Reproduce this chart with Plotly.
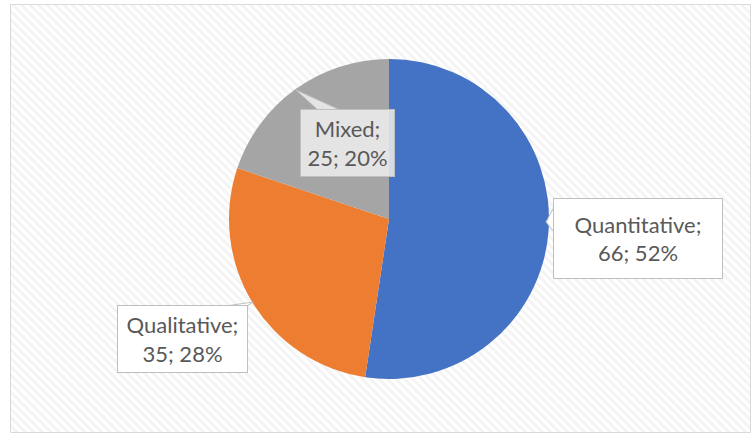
import plotly.graph_objects as go
import base64

labels = ["Quantitative", "Qualitative", "Mixed"]
values = [66, 35, 25]
colors = ["#4472C4", "#ED7D31", "#A5A5A5"]

W, H = 755, 435

def px(x):
    return x / W

def py(y):
    return 1 - y / H

total = sum(values)
pcts = [round(v * 100 / total) for v in values]
texts = [f"{l};<br>{v}; {p}%" for l, v, p in zip(labels, values, pcts)]

fig = go.Figure()
fig.add_trace(go.Pie(
    labels=labels, values=values, sort=False, direction="clockwise", rotation=0,
    marker=dict(colors=colors, line=dict(width=0)),
    textinfo="none", hoverinfo="label+value+percent", showlegend=False,
    domain=dict(x=[px(229), px(549)], y=[py(379), py(59)]),
))

# striped background pattern
svg = ('<svg xmlns="http://www.w3.org/2000/svg" width="740" height="428">'
       '<defs><pattern id="p" width="6" height="6" patternUnits="userSpaceOnUse" patternTransform="rotate(-45)">'
       '<rect width="6" height="6" fill="#ffffff"/><rect width="3" height="6" fill="#f4f4f4"/></pattern></defs>'
       '<rect width="740" height="428" fill="url(#p)"/></svg>')
src = "data:image/svg+xml;base64," + base64.b64encode(svg.encode()).decode()

shapes = [
    dict(type="rect", xref="paper", yref="paper", x0=px(10.5), x1=px(750.5), y0=py(4.5), y1=py(432.5),
         line=dict(color="#d9d9d9", width=1), fillcolor="rgba(0,0,0,0)", layer="below"),
]

def tri(pts, fill):
    d = "M " + " L ".join(f"{px(x)},{py(y)}" for x, y in pts) + " Z"
    return dict(type="path", xref="paper", yref="paper", path=d, fillcolor=fill,
                line=dict(color="#bfbfbf", width=1), layer="above")

shapes.append(tri([(318, 110), (296, 90), (340, 110)], "rgba(238,238,238,0.85)"))
shapes.append(tri([(554, 207), (546, 222), (554, 232)], "rgba(255,255,255,0.95)"))
shapes.append(tri([(226, 306), (253, 302), (247, 306)], "rgba(255,255,255,0.95)"))

font = dict(family="Lato, Calibri, Open Sans, sans-serif", size=22, color="#595959")
ann = []
boxes = [
    (texts[0], 553, 198, 723, 279, "rgba(255,255,255,0.95)"),
    (texts[1], 117, 305, 248, 373, "rgba(255,255,255,0.95)"),
    (texts[2], 300, 109, 395, 177, "rgba(238,238,238,0.85)"),
]
for t, x0, y0, x1, y1, fill in boxes:
    ann.append(dict(
        text=t, x=px((x0 + x1) / 2), y=py((y0 + y1) / 2), xref="paper", yref="paper",
        xanchor="center", yanchor="middle", showarrow=False, font=font,
        width=x1 - x0 - 2, height=y1 - y0 - 2, bgcolor=fill, bordercolor="#bfbfbf",
        borderwidth=1, borderpad=0, align="center",
    ))

fig.update_layout(
    width=W, height=H, margin=dict(l=0, r=0, t=0, b=0),
    paper_bgcolor="white", plot_bgcolor="white",
    images=[dict(source=src, xref="paper", yref="paper", x=px(11), y=py(5), sizex=px(739), sizey=1 - py(427),
                 xanchor="left", yanchor="top", sizing="stretch", layer="below")],
    shapes=shapes, annotations=ann,
)
fig.write_html("out.html", config={"displayModeBar": False},
               post_script="document.body.style.margin='0';document.body.style.overflow='hidden';")
